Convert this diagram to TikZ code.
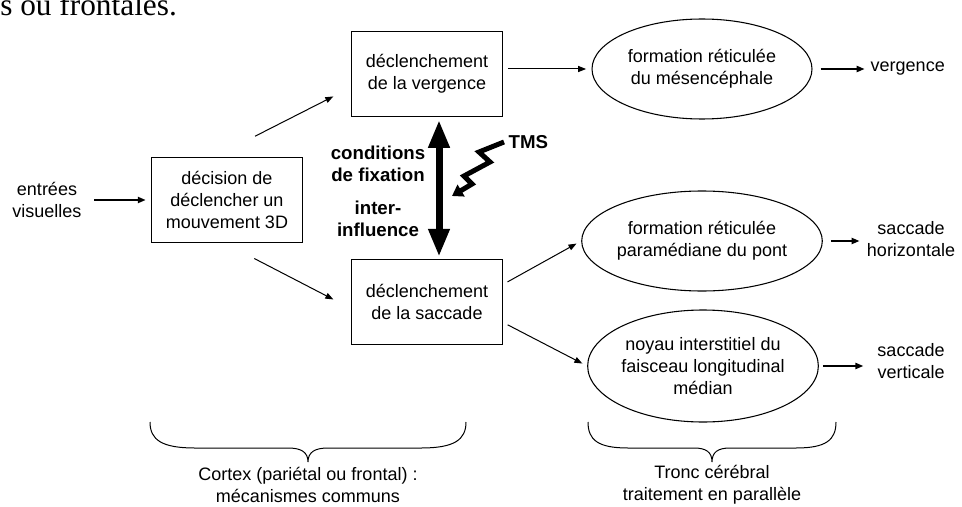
\documentclass[tikz,border=0pt]{standalone}
\usepackage{fontspec}
\setmainfont{Liberation Sans}
\newfontfamily\pageserif{Liberation Serif}
\usetikzlibrary{arrows.meta,positioning,shapes.geometric}

\begin{document}
\begin{tikzpicture}[x=0.75pt, y=-0.75pt, every node/.style={font=\fontsize{13.5}{16.5}\selectfont, align=center},
  stage/.style={draw, line width=0.8pt, minimum width=113pt, minimum height=64pt, inner sep=2pt},
  nucleus/.style={draw, ellipse, line width=0.8pt, minimum width=165pt, minimum height=75pt, inner sep=0pt},
  boldtext/.style={font=\bfseries\fontsize{14}{16.5}\selectfont},
  thinarrow/.style={-{Triangle[length=6pt,width=4.5pt]}, line width=0.75pt},
  thickarrow/.style={-{Triangle[length=6pt,width=4.5pt]}, line width=1.5pt}]
\useasboundingbox (0,0) rectangle (962,506);
\node[font=\pageserif\fontsize{23.5}{26}\selectfont, anchor=base west, inner sep=0pt] (pagetext) at (0,16) {s ou frontales.};

% cortex
\node (inputs) at (47,200) {entrées\\visuelles};
\node[stage] (decision) at (227,200) {décision de\\déclencher un\\mouvement 3D};
\node[stage] (vergbox) at (427,74) {déclenchement\\de la vergence};
\node[stage] (saccbox) at (427,302) {déclenchement\\de la saccade};

% tronc cerebral
\node[nucleus] (mesen) at (702,69) {formation réticulée\\du mésencéphale};
\node[nucleus] (pont) at (702,241) {formation réticulée\\paramédiane du pont};
\node[nucleus, minimum height=84pt] (flm) at (703,366) {noyau interstitiel du\\faisceau longitudinal\\médian};
\node[anchor=west] (vergout) at (866,69) {vergence};
\node (horout) at (911,239) {saccade\\horizontale};
\node (vertout) at (911,361) {saccade\\verticale};

\draw[thickarrow, shorten <=6pt, shorten >=4pt] (inputs.east) -- (decision.west);
\draw[thinarrow, shorten <=34pt, shorten >=15pt] (decision.106) -- (vergbox.190);
\draw[thinarrow, shorten <=25pt, shorten >=15pt] (decision.-93) -- (saccbox.185.7);
\draw[thinarrow, shorten <=4pt, shorten >=4pt] (vergbox.east |- mesen.west) -- (mesen.west);
\draw[thinarrow, shorten <=4pt, shorten >=4pt] (saccbox.13) -- (pont.west);
\draw[thinarrow, shorten <=4pt, shorten >=4pt] (saccbox.-15) -- (flm.west);
\draw[thickarrow, shorten <=6pt, shorten >=1pt] (mesen.east) -- (vergout.west);
\draw[thickarrow, shorten <=6pt, shorten >=2pt] (pont.east) -- (horout.west |- pont.east);
\draw[thickarrow, shorten <=3pt, shorten >=7pt] (flm.east) -- (vertout.west |- flm.east);

% interactions
\draw[{Triangle[length=21pt,width=15pt]}-{Triangle[length=21pt,width=15pt]}, line width=5.25pt, shorten <=2pt, shorten >=1.5pt]
  ([xshift=9pt]vergbox.south) -- ([xshift=9pt]saccbox.north);
\node[boldtext] (fixcond) at (378,164) {conditions\\de fixation};
\node[boldtext] (interinf) at (378,219) {inter-\\influence};
\node[boldtext, anchor=west] (tms) at (504,142) {TMS};
\draw[line width=3.75pt, miter limit=4, -{Triangle[length=8pt,width=10pt]}]
  (tms.west) -- ++(-25,10) -- ++(11,10) -- ++(-26,14) -- ++(8,8) -- ++(-20,12);

% accolades
\draw[line width=0.75pt] (150,422) .. controls (150,440) and (162,448) .. (195,448) -- (288,448)
  .. controls (301,448) and (308,452) .. (308,462) .. controls (308,452) and (315,448) .. (328,448)
  -- (421,448) .. controls (454,448) and (466,440) .. (466,422);
\draw[line width=0.75pt] (588,422) .. controls (588,440) and (598,448) .. (628,448) -- (694,448)
  .. controls (706,448) and (712,452) .. (712,462) .. controls (712,452) and (718,448) .. (730,448)
  -- (796,448) .. controls (826,448) and (836,440) .. (836,422);
\node (cortex) at (308,485) {Cortex (pariétal ou frontal) :\\mécanismes communs};
\node (tronc) at (712,485) {Tronc cérébral\\traitement en parallèle};
\end{tikzpicture}
\end{document}
